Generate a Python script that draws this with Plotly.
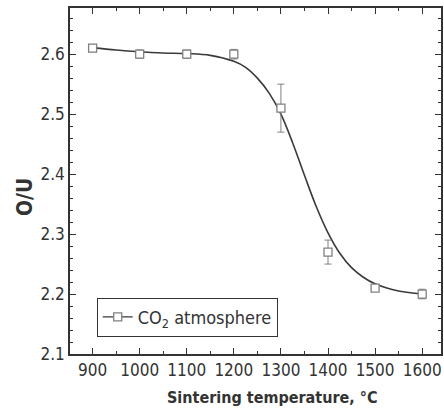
import plotly.graph_objects as go

# Measured data
temperature = [900, 1000, 1100, 1200, 1300, 1400, 1500, 1600]
o_u = [2.61, 2.60, 2.60, 2.60, 2.51, 2.27, 2.21, 2.20]
o_u_err = [0.006, 0.007, 0.007, 0.008, 0.04, 0.02, 0.005, 0.008]

# Fitted curve
fit_x = [900, 950, 1000, 1050, 1100, 1150, 1200, 1225, 1250, 1275, 1300,
         1325, 1350, 1375, 1400, 1425, 1450, 1475, 1500, 1550, 1600]
fit_y = [2.611, 2.607, 2.604, 2.602, 2.601, 2.598, 2.588, 2.578, 2.560, 2.535, 2.500,
         2.452, 2.398, 2.346, 2.302, 2.268, 2.244, 2.228, 2.217, 2.205, 2.200]

x_ticks = [900, 1000, 1100, 1200, 1300, 1400, 1500, 1600]
y_ticks = [2.1, 2.2, 2.3, 2.4, 2.5, 2.6]

x_title = "<b>Sintering temperature, °C</b>"
y_title = "<b>O/U</b>"

FONT = "DejaVu Sans Condensed"
AX = "#333333"
MK = "#808080"

fig = go.Figure()
fig.add_trace(go.Scatter(
    x=fit_x, y=fit_y, mode="lines", line=dict(color="#3a3a3a", width=1.6, shape="spline"),
    showlegend=False, hoverinfo="skip"))
fig.add_trace(go.Scatter(
    x=temperature, y=o_u, mode="markers",
    marker=dict(symbol="square", size=8, color="white", line=dict(color=MK, width=1.3)),
    error_y=dict(type="data", array=o_u_err, color=MK, thickness=1, width=3.5),
    showlegend=False))
fig.add_trace(go.Scatter(
    x=[None], y=[None], mode="lines+markers", name="CO<sub>2</sub> atmosphere",
    line=dict(color="#3a3a3a", width=1.4),
    marker=dict(symbol="square", size=8, color="white", line=dict(color=MK, width=1.3))))

axis_common = dict(
    showline=True, linecolor=AX, linewidth=1.5, mirror="allticks",
    ticks="inside", ticklen=6, tickwidth=1.2, tickcolor=AX,
    showgrid=False, zeroline=False, automargin=False,
    tickfont=dict(family=FONT, size=17, color=AX),
)

fig.update_xaxes(
    range=[852, 1640], tickvals=x_ticks, ticktext=[str(v) for v in x_ticks],
    minor=dict(ticks="inside", ticklen=3, tickcolor=AX, dtick=50, tick0=850, showgrid=False),
    **axis_common)
fig.update_yaxes(
    range=[2.1, 2.677], tickvals=y_ticks, ticktext=[f"{v:.1f}" for v in y_ticks],
    minor=dict(ticks="inside", ticklen=3, tickcolor=AX, dtick=0.02, tick0=2.1, showgrid=False),
    **axis_common)

fig.add_annotation(text=x_title, xref="paper", yref="paper", x=0.546, y=-0.127,
                   xanchor="center", yanchor="middle", showarrow=False,
                   font=dict(family=FONT, size=16, color=AX))
fig.add_annotation(text=y_title, xref="paper", yref="paper", x=-0.121, y=0.454,
                   xanchor="center", yanchor="middle", showarrow=False, textangle=-90,
                   font=dict(family=FONT, size=21, color=AX))

fig.update_layout(
    width=444, height=412,
    margin=dict(l=70, r=3, t=8, b=58),
    plot_bgcolor="white", paper_bgcolor="white",
    legend=dict(x=0.072, y=0.05, xanchor="left", yanchor="bottom",
                bordercolor=AX, borderwidth=1, bgcolor="white",
                font=dict(family=FONT, size=18, color=AX),
                itemwidth=30, tracegroupgap=0),
)

fig.write_html("out.html", config={"displayModeBar": False},
               post_script="document.body.style.margin='0';document.body.style.overflow='hidden';")
